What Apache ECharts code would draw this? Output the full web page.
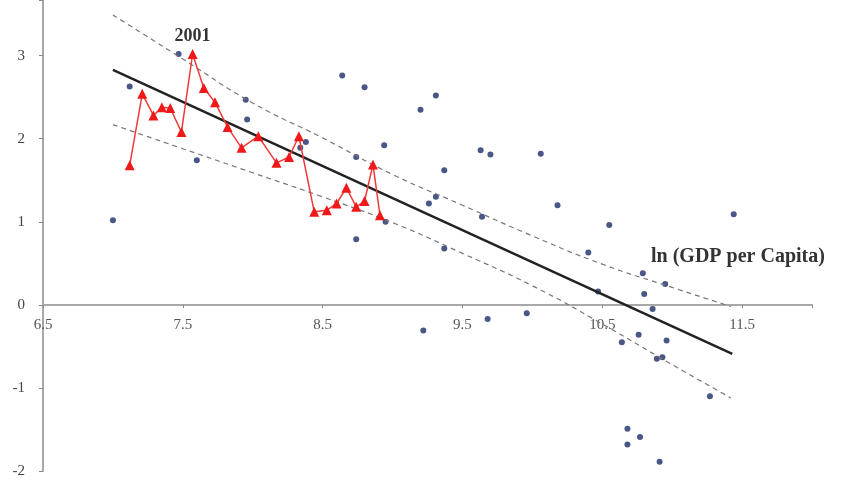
<!DOCTYPE html>
<html>
<head>
<meta charset="utf-8">
<script src="https://cdn.jsdelivr.net/npm/echarts@6/dist/echarts.min.js"></script>
<style>
    html, body { margin: 0; padding: 0; background: #fff; }
    #chart { width: 860px; height: 484px; }
</style>
</head>
<body>
<div id="chart"></div>
<script>
// countries: [ln GDP per capita, value]
var countryPoints = [
    [7.00, 1.02], [7.12, 2.63], [7.47, 3.02], [7.60, 1.74], [7.95, 2.47], [7.96, 2.23],
    [8.34, 1.89], [8.38, 1.96], [8.64, 2.76], [8.80, 2.62], [8.74, 1.78], [8.74, 0.79],
    [8.94, 1.92], [8.95, 1.00], [9.20, 2.35], [9.31, 2.52], [9.37, 1.62], [9.31, 1.30],
    [9.26, 1.22], [9.37, 0.68], [9.63, 1.86], [9.70, 1.81], [10.06, 1.82], [9.64, 1.06],
    [10.18, 1.20], [10.40, 0.63], [10.55, 0.96], [11.44, 1.09], [10.79, 0.38], [10.95, 0.25],
    [10.80, 0.13], [10.86, -0.05], [10.47, 0.16], [9.96, -0.10], [10.76, -0.36], [10.64, -0.45],
    [10.96, -0.43], [9.22, -0.31], [9.68, -0.17], [10.89, -0.65], [10.93, -0.63], [11.27, -1.10],
    [10.68, -1.49], [10.77, -1.59], [10.68, -1.68], [10.91, -1.89]
];

// time path, the peak is 2001
var pathPoints = [
    [7.12, 1.68], [7.21, 2.54], [7.29, 2.28], [7.35, 2.38], [7.41, 2.37], [7.49, 2.08],
    [7.57, 3.02], [7.65, 2.61], [7.73, 2.44], [7.82, 2.14], [7.92, 1.89], [8.04, 2.03],
    [8.17, 1.71], [8.26, 1.78], [8.33, 2.03], [8.44, 1.12], [8.53, 1.14], [8.60, 1.22],
    [8.67, 1.41], [8.74, 1.18], [8.80, 1.25], [8.86, 1.69], [8.91, 1.08]
];
var peakIndex = 6;
var peakLabel = '2001';

var fitLine = [[7.00, 2.83], [11.43, -0.59]];
var upperBand = [[7.00, 3.49], [7.5, 2.96], [8.0, 2.43], [8.5, 2.01], [9.0, 1.57], [9.5, 1.20],
    [10.0, 0.83], [10.5, 0.49], [11.0, 0.21], [11.42, -0.02]];
var lowerBand = [[7.00, 2.17], [7.5, 1.88], [8.0, 1.59], [8.5, 1.30], [9.0, 0.99], [9.5, 0.62],
    [10.0, 0.23], [10.5, -0.23], [11.0, -0.72], [11.42, -1.12]];

var xTicks = [6.5, 7.5, 8.5, 9.5, 10.5, 11.5];
var yTicks = [-2, -1, 0, 1, 2, 3];
var xTitle = 'ln (GDP per Capita)';

var serif = '"Liberation Serif", "DejaVu Serif", serif';

var yMin = -2, yMax = 3.67;
var gridTop = 0, gridBottom = 13, chartH = 484;
// x axis sits on y = 0 with its labels right under it
var plotH = chartH - gridTop - gridBottom;
var xAxisOffset = -Math.round(plotH * (0 - yMin) / (yMax - yMin));

var pathData = pathPoints.map(function (p, i) {
    if (i !== peakIndex) return p;
    return {
        value: p,
        label: {
            show: true, position: 'top', distance: 4, formatter: peakLabel,
            fontFamily: serif, fontWeight: 'bold', fontSize: 18, color: '#333'
        }
    };
});

var myChart = echarts.init(document.getElementById('chart'));
myChart.setOption({
    backgroundColor: '#fff',
    animation: false,
    grid: { left: 43, right: 48, top: gridTop, bottom: gridBottom, containLabel: false, outerBoundsMode: 'none' },
    xAxis: {
        type: 'value', min: 6.5, max: 12, interval: 1,
        position: 'bottom', offset: xAxisOffset,
        splitLine: { show: false },
        axisLine: { onZero: false, lineStyle: { color: '#a8a8a8', width: 2 } },
        axisTick: { length: 3, lineStyle: { color: '#888' } },
        axisLabel: {
            margin: 13, fontFamily: serif, fontSize: 15, color: '#555',
            formatter: function (v) {
                return xTicks.indexOf(+v.toFixed(2)) >= 0 ? v.toFixed(1) : '';
            }
        }
    },
    yAxis: {
        type: 'value', min: yMin, max: yMax, interval: 1,
        splitLine: { show: false },
        axisLine: { lineStyle: { color: '#a8a8a8', width: 2 } },
        axisTick: { length: 4, lineStyle: { color: '#888' } },
        axisLabel: {
            margin: 18, fontFamily: serif, fontSize: 15, color: '#444',
            formatter: function (v) {
                return yTicks.indexOf(+v.toFixed(2)) >= 0 ? String(v) : '';
            }
        }
    },
    graphic: [{
        type: 'text', left: 651, top: 247,
        style: { text: xTitle, font: 'bold 20px ' + serif, fill: '#333' }
    }],
    series: [
        {
            type: 'line', data: upperBand, smooth: true, showSymbol: false,
            lineStyle: { color: '#777', width: 1.2, type: [5, 4] }
        },
        {
            type: 'line', data: lowerBand, smooth: true, showSymbol: false,
            lineStyle: { color: '#777', width: 1.2, type: [5, 4] }
        },
        {
            type: 'line', data: fitLine, showSymbol: false,
            lineStyle: { color: '#222', width: 2.5 }
        },
        {
            type: 'line', data: pathData, symbol: 'triangle', symbolSize: 10,
            itemStyle: { color: '#f01818' },
            lineStyle: { color: '#f03a3a', width: 1.5 }
        },
        {
            type: 'scatter', data: countryPoints, symbolSize: 6,
            itemStyle: { color: '#1c2c68' }
        }
    ]
});
</script>
</body>
</html>
